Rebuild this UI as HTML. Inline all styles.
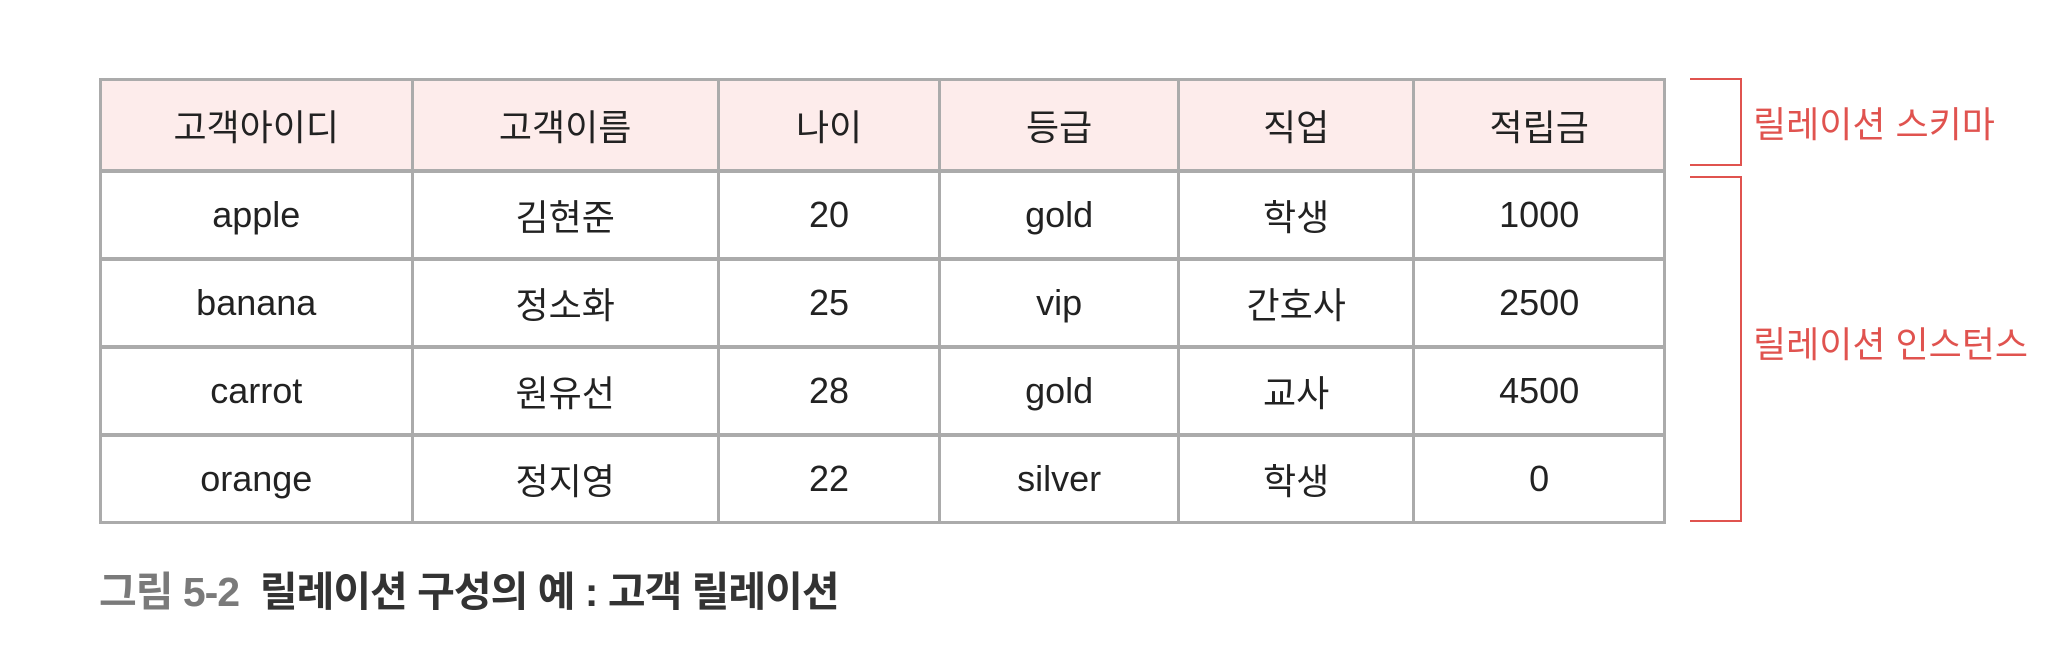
<!DOCTYPE html>
<html><head><meta charset="utf-8"><style>
body{margin:0;width:2070px;height:667px;background:#fff;position:relative;overflow:hidden;font-family:"Liberation Sans","Noto Sans CJK KR",sans-serif}
table{position:absolute;left:99px;top:78px;width:1567px;height:442px;border-collapse:collapse;}
td,th{border:3px solid #ababab;text-align:center;font-size:36px;font-weight:normal;color:#222;padding:0}
tr{height:88px}
thead tr{height:91px}
th{background:#fdeceb}
tr.r td{border-top-width:4px}
.br{position:absolute;border:2px solid #e0534f;border-left:none;width:50px}
.lab{position:absolute;color:#e0534f;font-size:36px;left:1753px}
.cap{position:absolute;left:99px;top:558px;font-size:41px;font-weight:bold;color:#333;letter-spacing:-1px}
</style></head><body>
<table>
<colgroup><col style="width:312px"><col style="width:307px"><col style="width:222px"><col style="width:239px"><col style="width:236px"><col style="width:251px"></colgroup>
<thead><tr><th>고객아이디</th><th>고객이름</th><th>나이</th><th>등급</th><th>직업</th><th>적립금</th></tr></thead>
<tbody>
<tr class="r"><td>apple</td><td>김현준</td><td>20</td><td>gold</td><td>학생</td><td>1000</td></tr>
<tr class="r"><td>banana</td><td>정소화</td><td>25</td><td>vip</td><td>간호사</td><td>2500</td></tr>
<tr class="r"><td>carrot</td><td>원유선</td><td>28</td><td>gold</td><td>교사</td><td>4500</td></tr>
<tr class="r"><td>orange</td><td>정지영</td><td>22</td><td>silver</td><td>학생</td><td>0</td></tr>
</tbody></table>
<div class="br" style="left:1690px;top:78px;height:84px"></div>
<div class="br" style="left:1690px;top:176px;height:342px"></div>
<div class="lab" style="top:96px">릴레이션 스키마</div>
<div class="lab" style="top:316px">릴레이션 인스턴스</div>
<div class="cap"><span style="color:#7a7a7a">그림 5-2</span>&nbsp; 릴레이션 구성의 예 : 고객 릴레이션</div>
</body></html>
